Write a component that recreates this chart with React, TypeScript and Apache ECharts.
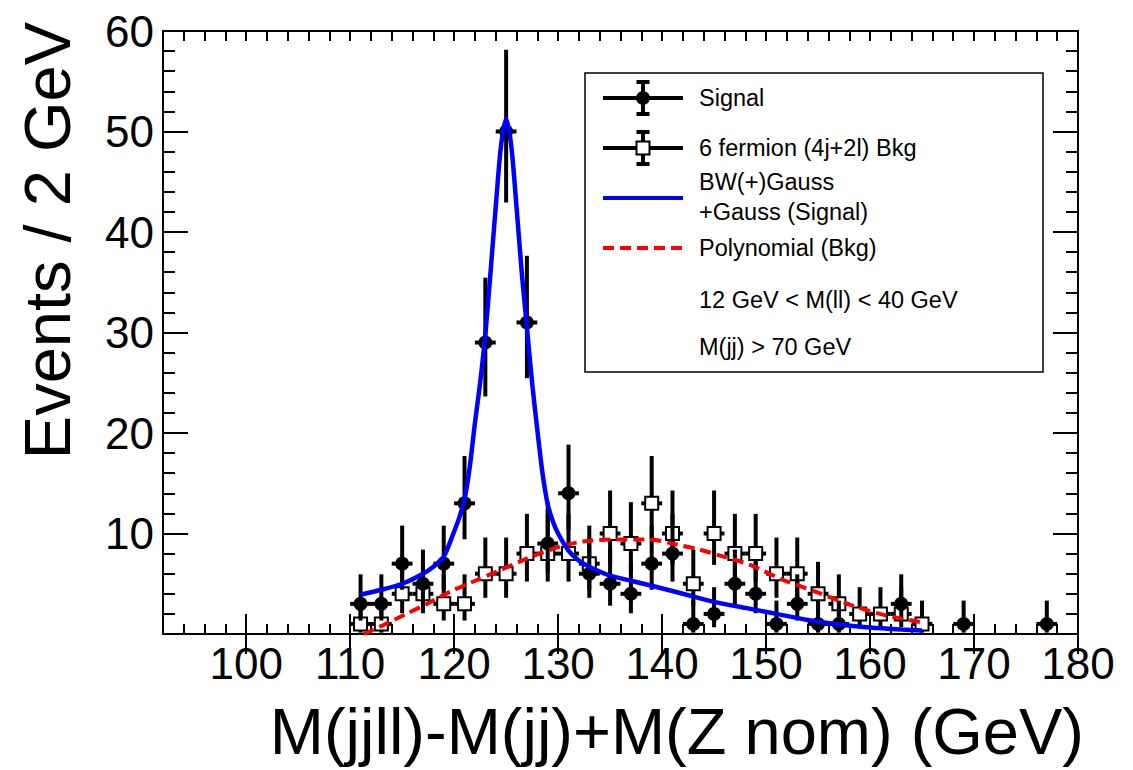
import React, { useEffect, useRef } from "react";
import * as echarts from "echarts";

// Observed counts per 2 GeV bin (bin centres in GeV); empty bins are not drawn
const signalBins = [111, 113, 115, 117, 119, 121, 123, 125, 127, 129, 131, 133, 135, 137, 139, 141, 143, 145, 147, 149, 151, 153, 155, 157, 163, 169, 177];
const signalCounts = [3, 3, 7, 5, 7, 13, 29, 50, 31, 9, 14, 6, 5, 4, 7, 8, 1, 2, 5, 4, 1, 3, 1, 1, 3, 1, 1];

const bkgBins = [111, 113, 115, 117, 119, 121, 123, 125, 127, 129, 131, 133, 135, 137, 139, 141, 143, 145, 147, 149, 151, 153, 155, 157, 159, 161, 163, 165];
const bkgCounts = [1, 1, 4, 4, 3, 3, 6, 6, 8, 8, 8, 7, 10, 9, 13, 10, 5, 10, 8, 8, 6, 6, 4, 3, 2, 2, 2, 1];

// Fitted signal shape: BW(+)Gauss + Gauss
const signalFitX = [111, 113, 115, 117, 118, 119, 120, 120.5, 121, 121.5, 122, 122.5, 123, 123.5, 124, 124.5, 125, 125.5, 126, 126.5, 127, 127.5, 128, 128.5, 129, 129.5, 130, 131, 132, 133, 135, 137, 139, 142, 145, 148, 151, 154, 157, 160, 163, 165];
const signalFitY = [3.9, 4.4, 5.0, 6.0, 6.7, 7.7, 10.2, 11.6, 13.4, 16.6, 21.0, 25.0, 29.8, 36.0, 42.5, 48.5, 51.3, 48.5, 42.5, 36.0, 30.5, 25.0, 20.3, 16.0, 12.9, 11.2, 10.0, 8.3, 7.3, 6.7, 5.8, 5.3, 4.8, 4.0, 3.2, 2.6, 2.0, 1.4, 0.95, 0.65, 0.45, 0.35];

// Fitted background polynomial
const bkgFitX = [111.3, 113.2, 115.4, 117.4, 119.6, 121.8, 124.1, 126.3, 128.2, 130.2, 132.4, 135.6, 138.8, 141.4, 143.6, 145.9, 148.4, 151.6, 154.8, 158.1, 161.3, 164.8];
const bkgFitY = [0, 0.9, 2.0, 3.0, 4.2, 5.2, 6.2, 7.2, 8.0, 8.7, 9.2, 9.4, 9.4, 8.9, 8.4, 7.7, 6.9, 5.4, 4.2, 2.9, 1.9, 1.2];

const xMajorTicks = [100, 110, 120, 130, 140, 150, 160, 170, 180];

const legendEntries = ["Signal", "6 fermion (4j+2l) Bkg", "BW(+)Gauss", "+Gauss (Signal)", "Polynomial (Bkg)"];
const cutLabels = ["12 GeV < M(ll) < 40 GeV", "M(jj) > 70 GeV"];

const xTitle = "M(jjll)-M(jj)+M(Z nom) (GeV)";
const yTitle = "Events / 2 GeV";

const FONT = "'Liberation Sans', Arial, Helvetica, sans-serif";
const BLUE = "#0000ff";
const RED = "#ff0000";

// Approximate 68% Poisson (Garwood) interval for a count
function poissonInterval(n: number): [number, number] {
  const lo = n > 0 ? n - Math.sqrt(n - 0.25) : 0;
  const hi = n + Math.sqrt(n + 0.75) + 1;
  return [lo, hi];
}

function withErrors(bins: number[], counts: number[]) {
  return bins.map((x, i) => {
    const [lo, hi] = poissonInterval(counts[i]);
    return [x, counts[i], lo, hi];
  });
}

function pointRenderer(filled: boolean) {
  return (_params: any, api: any) => {
    const x = api.value(0);
    const n = api.value(1);
    const lo = api.value(2);
    const hi = api.value(3);
    const c = api.coord([x, n]);
    const top = api.coord([x, hi]);
    const bot = api.coord([x, lo]);
    const left = api.coord([x - 1, n]);
    const right = api.coord([x + 1, n]);
    const lineStyle = { stroke: "#000", lineWidth: 4 };
    const marker = filled
      ? { type: "circle", shape: { cx: c[0], cy: c[1], r: 7 }, style: { fill: "#000" } }
      : { type: "rect", shape: { x: c[0] - 6.5, y: c[1] - 6.5, width: 13, height: 13 }, style: { fill: "#fff", stroke: "#000", lineWidth: 2 } };
    return {
      type: "group",
      children: [
        { type: "line", shape: { x1: c[0], y1: top[1], x2: c[0], y2: bot[1] }, style: lineStyle },
        { type: "line", shape: { x1: left[0], y1: c[1], x2: right[0], y2: c[1] }, style: lineStyle },
        marker,
      ],
    };
  };
}

function legendGraphics() {
  const sx0 = 603;
  const sx1 = 683;
  const scx = 643;
  const tx = 699;
  const txt = (text: string, y: number) => ({
    type: "text",
    x: tx,
    y,
    style: { text, fontSize: 23.5, fontFamily: FONT, fill: "#000", align: "left", verticalAlign: "middle" },
  });
  const bar = (x1: number, y1: number, x2: number, y2: number) => ({
    type: "line",
    shape: { x1, y1, x2, y2 },
    style: { stroke: "#000", lineWidth: 4 },
  });
  const errSymbol = (cy: number, filled: boolean) => [
    bar(sx0, cy, sx1, cy),
    bar(scx, cy - 16, scx, cy + 16),
    bar(scx - 6.5, cy - 16, scx + 6.5, cy - 16),
    bar(scx - 6.5, cy + 16, scx + 6.5, cy + 16),
    filled
      ? { type: "circle", shape: { cx: scx, cy, r: 7 }, style: { fill: "#000" } }
      : { type: "rect", shape: { x: scx - 6.5, y: cy - 6.5, width: 13, height: 13 }, style: { fill: "#fff", stroke: "#000", lineWidth: 2 } },
  ];
  return [
    {
      type: "rect",
      shape: { x: 585, y: 73, width: 458, height: 299 },
      style: { fill: "#fff", stroke: "#000", lineWidth: 1.5 },
    },
    ...errSymbol(98, true),
    txt(legendEntries[0], 98),
    ...errSymbol(148, false),
    txt(legendEntries[1], 148),
    { type: "line", shape: { x1: sx0, y1: 198, x2: sx1, y2: 198 }, style: { stroke: BLUE, lineWidth: 4 } },
    txt(legendEntries[2], 182),
    txt(legendEntries[3], 212),
    { type: "line", shape: { x1: sx0, y1: 248, x2: sx1, y2: 248 }, style: { stroke: RED, lineWidth: 4, lineDash: [11, 6] } },
    txt(legendEntries[4], 248),
    txt(cutLabels[0], 300),
    txt(cutLabels[1], 347),
  ];
}

export default function App() {
  const ref = useRef<HTMLDivElement>(null);

  useEffect(() => {
    if (!ref.current) return;
    const chart = echarts.init(ref.current, null, { renderer: "svg" });

    const axisLine = { show: true, onZero: false, lineStyle: { color: "#000", width: 2 } };
    const tickStyle = { color: "#000", width: 2 };
    const noLabel = { show: false };
    const noSplit = { show: false };

    const option: any = {
      animation: false,
      backgroundColor: "#fff",
      grid: { left: 163, top: 31, right: 55, bottom: 136, containLabel: false, outerBoundsMode: "none" },
      xAxis: [
        {
          type: "value",
          position: "bottom",
          min: 92,
          max: 180,
          interval: 2,
          axisLine,
          axisTick: { show: true, inside: true, length: 10, lineStyle: tickStyle },
          axisLabel: {
            show: true,
            margin: 7,
            fontSize: 44,
            fontFamily: FONT,
            color: "#000",
            formatter: (v: number) => (xMajorTicks.includes(v) ? String(v) : ""),
          },
          splitLine: noSplit,
        },
        {
          type: "value",
          position: "bottom",
          min: 92,
          max: 180,
          axisLine: { show: false },
          axisTick: { show: true, inside: true, length: 20, lineStyle: tickStyle, customValues: xMajorTicks },
          axisLabel: noLabel,
          splitLine: noSplit,
        },
        {
          type: "value",
          position: "top",
          min: 92,
          max: 180,
          interval: 2,
          axisLine,
          axisTick: { show: true, inside: true, length: 10, lineStyle: tickStyle },
          axisLabel: noLabel,
          splitLine: noSplit,
        },
        {
          type: "value",
          position: "top",
          min: 92,
          max: 180,
          axisLine: { show: false },
          axisTick: { show: true, inside: true, length: 20, lineStyle: tickStyle, customValues: xMajorTicks },
          axisLabel: noLabel,
          splitLine: noSplit,
        },
      ],
      yAxis: [
        {
          type: "value",
          position: "left",
          min: 0,
          max: 60,
          interval: 2,
          axisLine,
          axisTick: { show: true, inside: true, length: 12, lineStyle: tickStyle },
          axisLabel: {
            show: true,
            margin: 9,
            fontSize: 44,
            fontFamily: FONT,
            color: "#000",
            formatter: (v: number) => (v > 0 && v % 10 === 0 ? String(v) : ""),
          },
          splitLine: noSplit,
        },
        {
          type: "value",
          position: "left",
          min: 0,
          max: 60,
          interval: 10,
          axisLine: { show: false },
          axisTick: { show: true, inside: true, length: 25, lineStyle: tickStyle },
          axisLabel: noLabel,
          splitLine: noSplit,
        },
        {
          type: "value",
          position: "right",
          min: 0,
          max: 60,
          interval: 2,
          axisLine,
          axisTick: { show: true, inside: true, length: 12, lineStyle: tickStyle },
          axisLabel: noLabel,
          splitLine: noSplit,
        },
        {
          type: "value",
          position: "right",
          min: 0,
          max: 60,
          interval: 10,
          axisLine: { show: false },
          axisTick: { show: true, inside: true, length: 25, lineStyle: tickStyle },
          axisLabel: noLabel,
          splitLine: noSplit,
        },
      ],
      series: [
        {
          name: "6 fermion (4j+2l) Bkg",
          type: "custom",
          xAxisIndex: 0,
          yAxisIndex: 0,
          z: 2,
          encode: { x: 0, y: 1 },
          data: withErrors(bkgBins, bkgCounts),
          renderItem: pointRenderer(false),
        },
        {
          name: "Signal",
          type: "custom",
          xAxisIndex: 0,
          yAxisIndex: 0,
          z: 3,
          encode: { x: 0, y: 1 },
          data: withErrors(signalBins, signalCounts),
          renderItem: pointRenderer(true),
        },
        {
          name: "Polynomial (Bkg)",
          type: "line",
          xAxisIndex: 0,
          yAxisIndex: 0,
          z: 4,
          showSymbol: false,
          smooth: 0.3,
          clip: true,
          data: bkgFitX.map((x, i) => [x, bkgFitY[i]]),
          lineStyle: { color: RED, width: 4, type: [11, 6] },
        },
        {
          name: "BW(+)Gauss +Gauss (Signal)",
          type: "line",
          xAxisIndex: 0,
          yAxisIndex: 0,
          z: 5,
          showSymbol: false,
          smooth: 0.25,
          clip: true,
          data: signalFitX.map((x, i) => [x, signalFitY[i]]),
          lineStyle: { color: BLUE, width: 4.5 },
        },
      ],
      graphic: [
        ...legendGraphics(),
        {
          type: "text",
          x: 1084,
          y: 731,
          style: { text: xTitle, fontSize: 65, fontFamily: FONT, fill: "#000", align: "right", verticalAlign: "middle" },
        },
        {
          type: "text",
          x: 47,
          y: 22,
          rotation: Math.PI / 2,
          style: { text: yTitle, fontSize: 65, fontFamily: FONT, fill: "#000", align: "right", verticalAlign: "middle" },
        },
      ],
    };

    chart.setOption(option);
    return () => chart.dispose();
  }, []);

  return <div ref={ref} style={{ position: "absolute", left: 0, top: 0, width: 1133, height: 770 }} />;
}
